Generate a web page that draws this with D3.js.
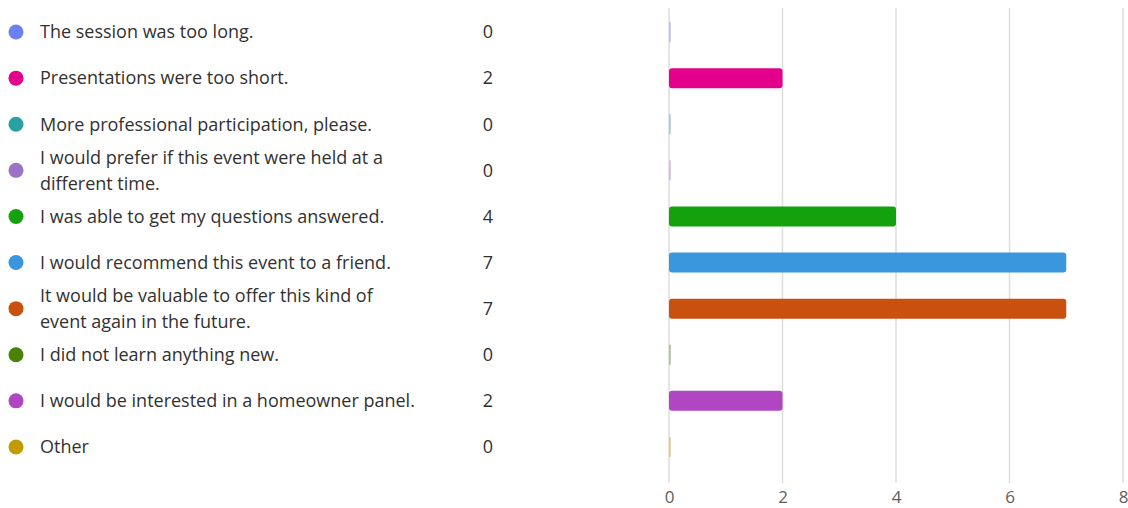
<!DOCTYPE html>
<html>
<head>
<meta charset="utf-8">
<script src="https://cdn.jsdelivr.net/npm/d3@7"></script>
<style>
  body { margin: 0; background: #fff; }
  svg { display: block; font-family: "Open Sans", "Noto Sans", sans-serif; }
</style>
</head>
<body>
<svg id="chart"></svg>
<script>
// answer options (line breaks as shown in the original)
const labels = [
  'The session was too long.',
  'Presentations were too short.',
  'More professional participation, please.',
  'I would prefer if this event were held at a\ndifferent time.',
  'I was able to get my questions answered.',
  'I would recommend this event to a friend.',
  'It would be valuable to offer this kind of\nevent again in the future.',
  'I did not learn anything new.',
  'I would be interested in a homeowner panel.',
  'Other'
];
const counts = [0, 2, 0, 0, 4, 7, 7, 0, 2, 0];
const colors = ['#6B80F2', '#E3008C', '#2AA0A4', '#9A73C6', '#13A10E',
                '#3A96DD', '#CA5010', '#498205', '#B146C2', '#C19C00'];
const xTicks = [0, 2, 4, 6, 8];

const width = 1128, height = 508;
const svg = d3.select('#chart').attr('width', width).attr('height', height);

const yScale = d3.scaleBand()
  .domain(d3.range(labels.length))
  .range([9, 470]);

const xScale = d3.scaleLinear()
  .domain([0, 8])
  .range([669, 1123]);

// grid lines
svg.append('g')
  .selectAll('line')
  .data(xTicks)
  .join('line')
  .attr('x1', d => xScale(d))
  .attr('x2', d => xScale(d))
  .attr('y1', 8)
  .attr('y2', 483)
  .attr('stroke', '#dedcda')
  .attr('stroke-width', 1.5);

// x axis
const xAxis = d3.axisBottom(xScale).tickValues(xTicks).tickSize(0).tickPadding(0);
const xAxisG = svg.append('g')
  .attr('transform', 'translate(0,491)')
  .call(xAxis);
xAxisG.select('.domain').remove();
xAxisG.selectAll('text')
  .attr('dy', '0.71em')
  .attr('fill', '#605e5c')
  .style('font-size', '17px')
  .style('font-family', '"Open Sans", sans-serif');

// legend rows
const rows = svg.append('g')
  .selectAll('g')
  .data(labels)
  .join('g')
  .attr('transform', (d, i) => `translate(0,${yScale(i) + yScale.bandwidth() / 2})`);

rows.append('circle')
  .attr('cx', 16)
  .attr('cy', 0)
  .attr('r', 7.5)
  .attr('fill', (d, i) => colors[i]);

rows.append('text')
  .attr('x', 40)
  .attr('fill', '#323130')
  .style('font-size', '18px')
  .each(function (d) {
    const lines = d.split('\n');
    const lh = 26;
    const start = -(lines.length - 1) * lh / 2;
    d3.select(this).selectAll('tspan')
      .data(lines)
      .join('tspan')
      .attr('x', 40)
      .attr('y', (l, j) => start + j * lh)
      .attr('dy', '0.35em')
      .text(l => l);
  });

rows.append('text')
  .attr('x', 488)
  .attr('dy', '0.35em')
  .attr('text-anchor', 'middle')
  .attr('fill', '#323130')
  .style('font-size', '18px')
  .text((d, i) => counts[i]);

// bars
const barH = 20;
svg.append('g')
  .selectAll('rect')
  .data(counts)
  .join('rect')
  .attr('x', xScale(0))
  .attr('y', (d, i) => yScale(i) + yScale.bandwidth() / 2 - barH / 2)
  .attr('width', d => d > 0 ? xScale(d) - xScale(0) : 2)
  .attr('height', barH)
  .attr('rx', d => d > 0 ? 3 : 0)
  .attr('fill', (d, i) => colors[i])
  .attr('fill-opacity', d => d > 0 ? 1 : 0.35);
</script>
</body>
</html>
